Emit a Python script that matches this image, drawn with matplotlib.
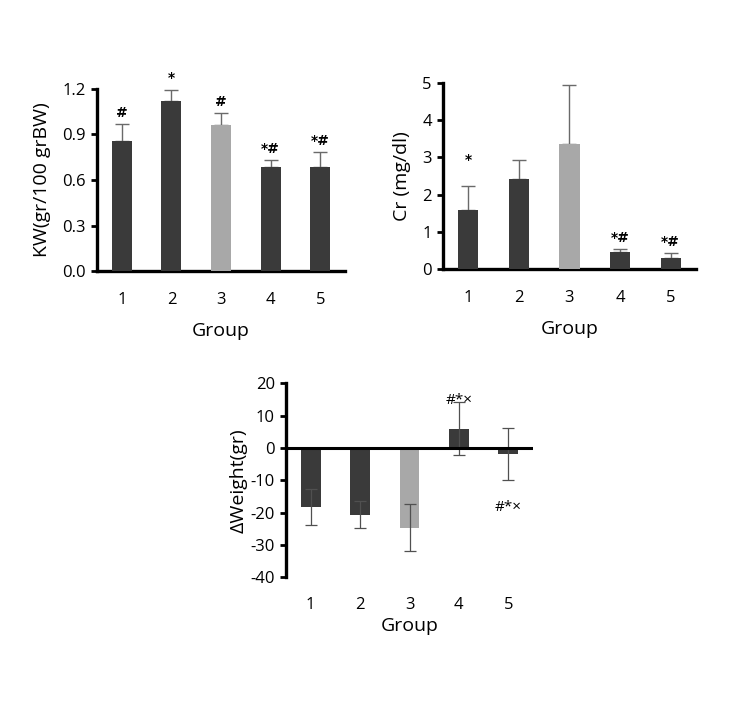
import matplotlib
matplotlib.use("Agg")
import matplotlib.pyplot as plt

groups = ["1", "2", "3", "4", "5"]

kw_mean = [0.86, 1.12, 0.965, 0.683, 0.683]
kw_err = [0.107, 0.076, 0.075, 0.047, 0.103]
kw_marks = ["#", "*", "#", "*#", "*#"]

cr_mean = [1.59, 2.42, 3.35, 0.455, 0.295]
cr_err = [0.64, 0.51, 1.59, 0.095, 0.15]
cr_marks = ["*", "", "", "*#", "*#"]

dw_mean = [-18.2, -20.7, -24.6, 5.9, -1.9]
dw_err = [5.6, 4.2, 7.3, 8.2, 8.0]
dw_marks = ["", "", "", "#*×", ""]
dw_mark5_y = -18.3

DARK = "#3a3a3a"
LIGHT = "#a8a8a8"
colors = [DARK, DARK, LIGHT, DARK, DARK]

plt.rcParams['font.family'] = ['Open Sans', 'DejaVu Sans']
plt.rcParams['axes.unicode_minus'] = False

fig = plt.figure(figsize=(7.52, 7.13), dpi=100)

TICK = 12
LAB = 14

def style(ax):
    for s in ["top", "right"]:
        ax.spines[s].set_visible(False)
    ax.spines["left"].set_linewidth(2.4)
    ax.spines["bottom"].set_linewidth(2.4)
    ax.tick_params(axis="y", direction="out", length=4, width=2, labelsize=TICK, pad=4)
    ax.tick_params(axis="x", length=0, labelsize=TICK, pad=15)

x = list(range(1, 6))

# KW chart
ax1 = fig.add_axes([0.129, 0.6199, 0.3298, 0.2553])
ax1.bar(x, kw_mean, width=0.4, color=colors, zorder=3)
ax1.errorbar(x, kw_mean, yerr=[[0]*5, kw_err], fmt="none", ecolor="#6a6a6a",
             elinewidth=1.0, capsize=5, capthick=1.0, zorder=2)
for xi, m, e, t in zip(x, kw_mean, kw_err, kw_marks):
    ax1.annotate(t, (xi, m + e), xytext=(0, 3), textcoords="offset points",
                 ha="center", va="bottom", fontsize=10, fontweight="bold",
                 family="DejaVu Sans")
ax1.set_xlim(0.5, 5.5)
ax1.set_ylim(0, 1.2)
ax1.set_yticks([0, 0.3, 0.6, 0.9, 1.2])
ax1.set_yticklabels(["0.0", "0.3", "0.6", "0.9", "1.2"])
ax1.set_xticks(x)
ax1.set_xticklabels(groups)
style(ax1)
ax1.set_ylabel("KW(gr/100 grBW)", fontsize=LAB, labelpad=8)
ax1.set_xlabel("Group", fontsize=LAB, labelpad=10)

# Cr chart
ax2 = fig.add_axes([0.5891, 0.6223, 0.3364, 0.2617])
ax2.bar(x, cr_mean, width=0.4, color=colors, zorder=3)
ax2.errorbar(x, cr_mean, yerr=[[0]*5, cr_err], fmt="none", ecolor="#6a6a6a",
             elinewidth=1.0, capsize=5, capthick=1.0, zorder=2)
for xi, m, e, t in zip(x, cr_mean, cr_err, cr_marks):
    if t:
        off = 14 if t == "*" else 3
        ax2.annotate(t, (xi, m + e), xytext=(0, off), textcoords="offset points",
                     ha="center", va="bottom", fontsize=10, fontweight="bold",
                     family="DejaVu Sans")
ax2.set_xlim(0.5, 5.5)
ax2.set_ylim(0, 5)
ax2.set_yticks([0, 1, 2, 3, 4, 5])
ax2.set_xticks(x)
ax2.set_xticklabels(groups)
style(ax2)
ax2.set_ylabel("Cr (mg/dl)", fontsize=LAB, labelpad=8)
ax2.set_xlabel("Group", fontsize=LAB, labelpad=10)

# Delta weight chart
ax3 = fig.add_axes([0.3803, 0.1903, 0.3285, 0.2721])
ax3.bar(x, dw_mean, width=0.4, color=colors, zorder=2)
ax3.errorbar(x, dw_mean, yerr=dw_err, fmt="none", ecolor="#505050",
             elinewidth=0.9, capsize=4, capthick=0.9, zorder=3)
ax3.axhline(0, color="black", lw=2.2, zorder=4)
for xi, m, e, t in zip(x, dw_mean, dw_err, dw_marks):
    if t:
        ax3.annotate(t, (xi, m + e), xytext=(0, -4), textcoords="offset points",
                     ha="center", va="bottom", fontsize=11)
ax3.text(5, dw_mark5_y, "#*×", ha="center", va="center", fontsize=11)
ax3.set_xlim(0.5, 5.5)
ax3.set_ylim(-40, 20)
ax3.set_yticks([-40, -30, -20, -10, 0, 10, 20])
ax3.set_xticks(x)
ax3.set_xticklabels(groups)
style(ax3)
ax3.spines["bottom"].set_visible(False)
ax3.tick_params(axis="x", pad=14)
ax3.set_ylabel("ΔWeight(gr)", fontsize=LAB, labelpad=2)
ax3.set_xlabel("Group", fontsize=LAB, labelpad=3)

fig.savefig("out.png", dpi=100, facecolor="white")
